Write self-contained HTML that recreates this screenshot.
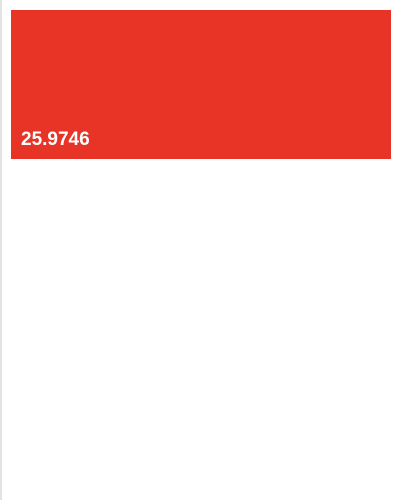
<!DOCTYPE html>
<html><head><meta charset="utf-8"><style>
html,body{margin:0;padding:0;width:400px;height:500px;background:#fff;overflow:hidden;font-family:"Liberation Sans",sans-serif;}
#edge{position:absolute;left:0;top:0;width:2px;height:500px;background:#e2e2e2;}
#tile{position:absolute;left:11px;top:10px;width:380px;height:149px;background:#e83426;}
#val{position:absolute;left:10px;top:119px;color:#fff;font-weight:bold;font-size:19px;line-height:22px;}
</style></head><body>
<div id="edge"></div>
<div id="tile">
<div id="val"></div>
</div>
<script>
const values = [25.9746];
document.getElementById('val').textContent = String(values[0]);
</script>
</body></html>
